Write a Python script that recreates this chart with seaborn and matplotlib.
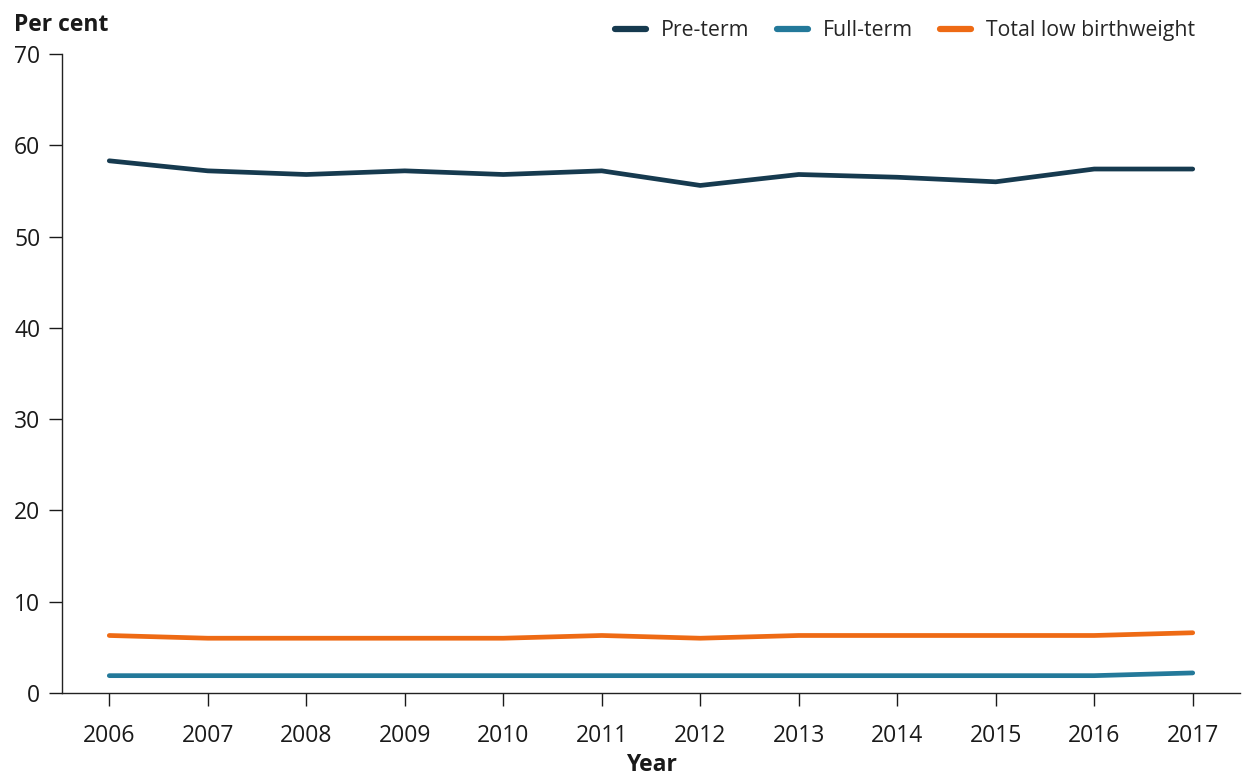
import matplotlib
matplotlib.use("Agg")
import matplotlib.pyplot as plt
import seaborn as sns
import pandas as pd

years = list(range(2006, 2018))
pre_term = [58.3, 57.2, 56.8, 57.2, 56.8, 57.2, 55.6, 56.8, 56.5, 56.0, 57.4, 57.4]
full_term = [1.9, 1.9, 1.9, 1.9, 1.9, 1.9, 1.9, 1.9, 1.9, 1.9, 1.9, 2.2]
total_low = [6.3, 6.0, 6.0, 6.0, 6.0, 6.3, 6.0, 6.3, 6.3, 6.3, 6.3, 6.6]
series_names = ["Pre-term", "Full-term", "Total low birthweight"]
colors = ["#163A4F", "#23799A", "#EE6A14"]

df = pd.DataFrame({
    "Year": years * 3,
    "Value": pre_term + full_term + total_low,
    "Series": [series_names[0]] * 12 + [series_names[1]] * 12 + [series_names[2]] * 12,
})

sns.set_theme(style="white")
plt.rcParams["font.family"] = ["Open Sans", "DejaVu Sans"]

fig = plt.figure(figsize=(12.42, 7.76), dpi=100)
ax = fig.add_axes([62 / 1242, 83 / 776, 1178 / 1242, 639 / 776])

sns.lineplot(data=df, x="Year", y="Value", hue="Series", palette=colors,
             hue_order=series_names, linewidth=3.4, ax=ax, legend=True,
             solid_capstyle="round")

ax.set_xlim(2005.52, 2017.48)
ax.set_ylim(0, 70)
ax.set_xticks(years)
ax.set_yticks(range(0, 71, 10))
ax.tick_params(axis="both", labelsize=16.5, colors="#1a1a1a", direction="out",
               length=9.5, width=1, bottom=True, left=True)
ax.tick_params(axis="x", pad=13)
ax.tick_params(axis="y", pad=6)
for s in ["top", "right"]:
    ax.spines[s].set_visible(False)
for s in ["left", "bottom"]:
    ax.spines[s].set_color("#222222")
    ax.spines[s].set_linewidth(1)

ax.set_xlabel("Year", fontsize=16.5, fontweight="bold", labelpad=3.5, color="#1a1a1a")
ax.set_ylabel("")
fig.text(14 / 1242, 1 - 25 / 776, "Per cent", fontsize=16.5, fontweight="bold",
         color="#1a1a1a", ha="left", va="center")

leg = ax.legend(loc="center right", bbox_to_anchor=(0.962, 1.036), ncol=3, frameon=False,
                fontsize=15.3, handlelength=1.45, columnspacing=1.3, handletextpad=0.7,
                borderaxespad=0, borderpad=0)
for line in leg.get_lines():
    line.set_linewidth(4.5)
    line.set_solid_capstyle("round")

fig.savefig("out.png", dpi=100)
